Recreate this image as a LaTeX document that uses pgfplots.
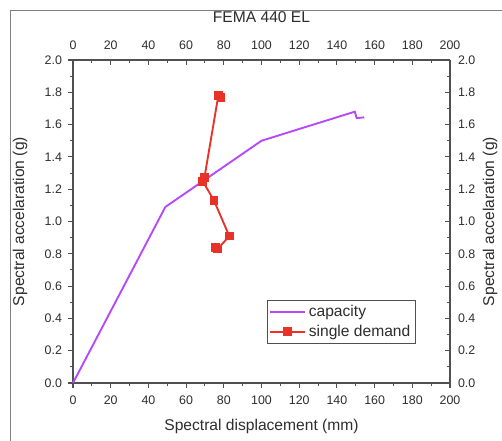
\documentclass[border=0pt]{standalone}
\usepackage{pgfplots}
\pgfplotsset{compat=1.18}
\usepackage{fontspec}
\setmainfont{Liberation Sans}

\definecolor{capcol}{RGB}{182,72,250}
\definecolor{demcol}{RGB}{232,50,40}
\definecolor{axcol}{RGB}{80,80,80}
\definecolor{txtcol}{RGB}{45,45,45}

% 1 px of the reference = 0.75pt
\pgfplotsset{
  femabase/.style={
    scale only axis,
    width=282.75pt, height=242.25pt,
    xmin=0, xmax=200, ymin=0, ymax=2,
    xtick={0,20,...,200},
    ytick={0,0.2,...,2.0},
    minor x tick num=1,
    minor y tick num=1,
    major tick length=3.75pt,
    minor tick length=2.25pt,
    axis line style={-, axcol, line width=0.8pt},
    every tick/.style={axcol, line width=0.8pt},
    tick label style={font=\fontsize{9.3}{11}\selectfont, text=txtcol},
    /pgf/number format/assume math mode=true,
    yticklabel={\pgfmathprintnumber[fixed,fixed zerofill,precision=1]{\tick}},
    label style={font=\fontsize{11.7}{14}\selectfont, text=txtcol},
  }
}

\begin{document}
\begin{tikzpicture}
\begin{axis}[
  femabase,
  name=ax,
  axis x line*=bottom,
  axis y line*=left,
  tick align=outside,
  xticklabel style={yshift=-2.5pt},
  yticklabel style={xshift=-1pt},
  xlabel={Spectral displacement (mm)},
  ylabel={Spectral accelaration (g)},
  xlabel style={at={(axis description cs:0.5,-0.136)}, anchor=center},
  ylabel style={at={(axis description cs:-0.1406,0.5)}, anchor=center},
  legend style={
    at={(axis description cs:0.5146,0.257)}, anchor=north west,
    draw=axcol, line width=0.6pt, fill=white,
    font=\fontsize{11.7}{14}\selectfont, text=txtcol,
    inner sep=1.5pt, row sep=1pt,
    cells={anchor=west},
  },
  legend image code/.code={
    \draw[mark repeat=2, mark phase=2, #1]
      plot coordinates {(0cm,0cm) (0.46cm,0cm) (0.92cm,0cm)};
  },
  clip=false,
]
\addplot[capcol, line width=1.4pt] coordinates {
  (0,0) (49,1.09) (100,1.50) (149.5,1.68) (150.5,1.64) (154.5,1.645)
};
\addlegendentry{capacity}

\addplot[demcol, line width=1.4pt, mark=square*, mark size=2.6pt,
  mark options={solid, fill=demcol}] coordinates {
  (78.5,1.77) (77.1,1.78) (69.7,1.27) (68.8,1.25) (74.8,1.13)
  (82.9,0.91) (76.8,0.83) (75.6,0.84)
};
\addlegendentry{single demand}

\node[font=\fontsize{11.7}{14}\selectfont, text=txtcol, anchor=center]
  at (axis description cs:0.5,1.133) {FEMA 440 EL};

\coordinate (bl) at (rel axis cs:0,0);
\coordinate (tr) at (rel axis cs:1,1);
\end{axis}

\begin{axis}[
  femabase,
  axis x line*=top,
  axis y line*=right,
  tick align=inside,
  xticklabel pos=upper,
  yticklabel pos=right,
  xticklabel style={yshift=4.5pt},
  yticklabel style={xshift=2.5pt},
  ylabel={Spectral accelaration (g)},
  ylabel style={at={(axis description cs:1.106,0.5)}, anchor=center},
]
\end{axis}

% outer frame (top and left edges are visible in the reference)
\draw[gray, line width=0.6pt]
  ([shift={(-47.25pt,-43.5pt)}]bl) -- ([shift={(-47.25pt,37.5pt)}]bl |- tr)
  -- ([shift={(39pt,37.5pt)}]tr);

\pgfresetboundingbox
\path[use as bounding box]
  ([shift={(-54.75pt,-43.5pt)}]bl) rectangle ([shift={(39pt,45pt)}]tr);
\end{tikzpicture}
\end{document}
